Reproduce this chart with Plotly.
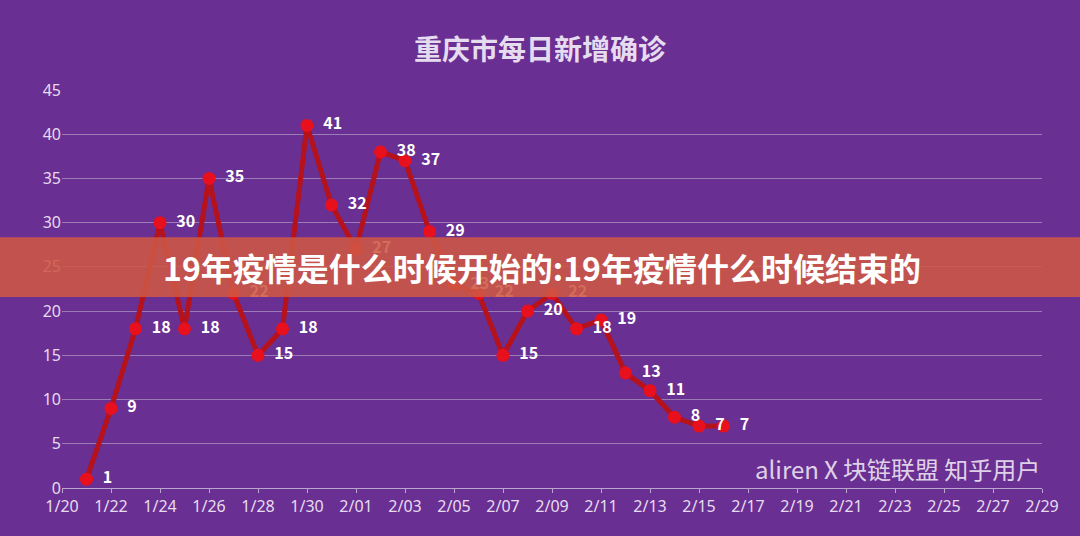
import plotly.graph_objects as go
import pandas as pd

dates = pd.date_range("2020-01-21", "2020-02-16").strftime("%Y-%m-%d").tolist()
values = [1, 9, 18, 30, 18, 35, 22, 15, 18, 41, 32, 27, 38, 37, 29, 23, 22, 15, 20, 22, 18, 19, 13, 11, 8, 7, 7]
tick_dates = pd.date_range("2020-01-20", "2020-02-29", freq="2D")
tick_labels = [f"{d.month}/{d.day:02d}" for d in tick_dates]

fig = go.Figure()
fig.add_trace(go.Scatter(
    x=dates, y=values, mode="lines+markers+text",
    line=dict(color="#b5121b", width=5),
    marker=dict(color="#e8101c", size=13),
    text=[f"  <b>{v}</b>" for v in values], textposition="middle right",
    textfont=dict(color="white", size=16, family="Noto Sans CJK SC"),
    cliponaxis=False, showlegend=False))

fig.update_layout(
    width=1080, height=536,
    paper_bgcolor="#6a2f92", plot_bgcolor="#6a2f92",
    margin=dict(l=62, r=38, t=90, b=48),
    title=dict(text="<b>重庆市每日新增确诊</b>", x=0.5, y=0.925, xanchor="center",
               font=dict(color="#e6dcef", size=28, family="Noto Sans CJK SC")),
    xaxis=dict(range=["2020-01-20", "2020-02-29"], tickvals=tick_dates.strftime("%Y-%m-%d").tolist(),
               ticktext=tick_labels, showgrid=False, showline=True, linecolor="#b9a6cc",
               tickfont=dict(color="#e6dcef", size=16, family="Noto Sans"), ticks="outside", ticklen=4, tickcolor="#b9a6cc"),
    yaxis=dict(range=[0, 45], dtick=5, gridcolor="#9a7bb5", zeroline=False,
               tickfont=dict(color="#e6dcef", size=16, family="Noto Sans")),
    shapes=[dict(type="rect", xref="paper", yref="paper", x0=-0.07, x1=1.04,
                 y0=0.48, y1=0.63, fillcolor="rgba(205,88,68,0.88)", line_width=0, layer="above")],
    annotations=[
        dict(text="<b>19年疫情是什么时候开始的:19年疫情什么时候结束的</b>", xref="paper", yref="paper",
             x=0.49, y=0.555, showarrow=False, font=dict(color="white", size=32, family="Noto Sans CJK SC")),
        dict(text="alirenⅩ块链联盟 知乎用户", xref="paper", yref="paper", x=1.0, y=0.0, yanchor="bottom",
             showarrow=False, font=dict(color="rgba(255,255,255,0.8)", size=24, family="Noto Sans CJK SC")),
    ])
fig.write_html("out.html", config={"displayModeBar": False},
               post_script="document.body.style.margin='0';document.body.style.background='#6a2f92';")
